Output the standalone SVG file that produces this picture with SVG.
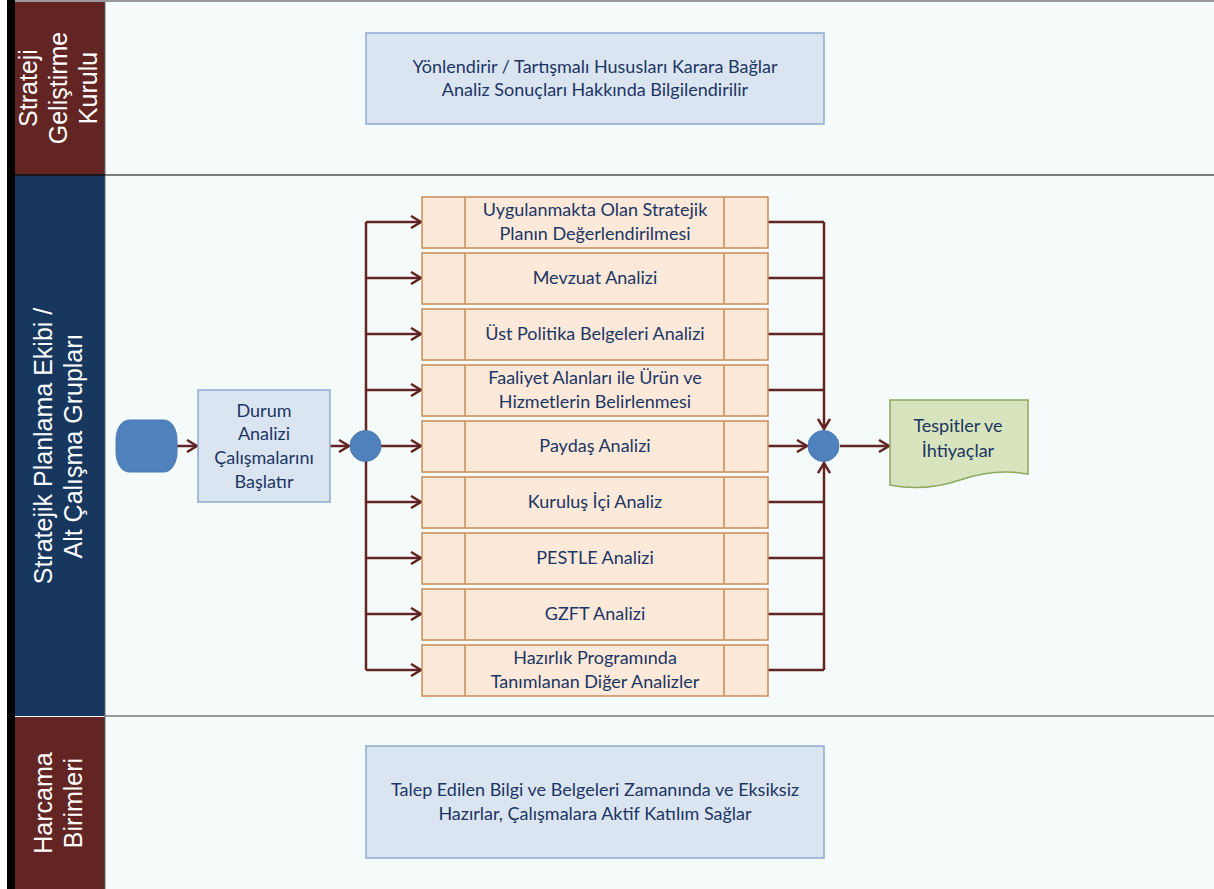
<svg xmlns="http://www.w3.org/2000/svg" width="1214" height="889" viewBox="0 0 1214 889">
<defs>
<style>
.hdr{font-family:"Liberation Sans",Arial,sans-serif;font-size:25px;fill:#ffffff;text-anchor:middle}
.t{font-family:Lato,"Open Sans",sans-serif;font-size:18px;fill:#1B3564;text-anchor:middle}
.blue{fill:#DBE5F1;stroke:#8EA9D0;stroke-width:1.5}
.ana{fill:#FDE9D9;stroke:#CC8A55;stroke-width:1.5}
.div{stroke:#CC8A55;stroke-width:1.5}
.con{fill:none;stroke:#632523;stroke-width:2.5}
.arr{marker-end:url(#ah)}
.dot{fill:#4F81BD;stroke:#4A7AB5;stroke-width:1}
</style>
<marker id="ah" viewBox="0 0 14 14" refX="12" refY="7" markerWidth="14" markerHeight="14" markerUnits="userSpaceOnUse" orient="auto">
<path d="M2,1 L12,7 L2,13" fill="none" stroke="#632523" stroke-width="2.5"/>
</marker>
</defs>
<rect x="0" y="0" width="1214" height="889" fill="#ffffff"/>
<g id="lanes">
<rect x="105" y="2" width="1109" height="887" fill="#F5FAFB"/>
<rect x="7" y="0" width="8" height="889" fill="#000000"/>
<line x1="15" y1="1" x2="1214" y2="1" stroke="#9A9A9A" stroke-width="2"/>
<rect x="15" y="2" width="90" height="172" fill="#632523"/>
<rect x="15" y="176" width="90" height="540" fill="#17375E"/>
<rect x="15" y="717" width="90" height="172" fill="#632523"/>
<line x1="105" y1="2" x2="105" y2="889" stroke="#6A6A6A" stroke-width="1"/>
<line x1="15" y1="175" x2="1214" y2="175" stroke="#555555" stroke-width="1.5"/>
<line x1="105" y1="716" x2="1214" y2="716" stroke="#777777" stroke-width="1.5"/>
<line x1="15" y1="175" x2="105" y2="175" stroke="#1a1a1a" stroke-width="2"/>
</g>
<g id="lane1-label">
<text class="hdr" transform="translate(37,88) rotate(-90)">Strateji</text>
<text class="hdr" transform="translate(67,88) rotate(-90)">Geliştirme</text>
<text class="hdr" transform="translate(97,88) rotate(-90)">Kurulu</text>
</g>
<g id="lane2-label">
<text class="hdr" transform="translate(52,446) rotate(-90)">Stratejik Planlama Ekibi /</text>
<text class="hdr" transform="translate(82,446) rotate(-90)">Alt Çalışma Grupları</text>
</g>
<g id="lane3-label">
<text class="hdr" transform="translate(52,803) rotate(-90)">Harcama</text>
<text class="hdr" transform="translate(82,803) rotate(-90)">Birimleri</text>
</g>
<g id="kurul-box">
<rect class="blue" x="366" y="33" width="458" height="91"/>
<text class="t" x="595" y="73">Yönlendirir / Tartışmalı Hususları Karara Bağlar</text>
<text class="t" x="595" y="96">Analiz Sonuçları Hakkında Bilgilendirilir</text>
</g>
<g id="harcama-box">
<rect class="blue" x="366" y="746" width="458" height="112"/>
<text class="t" x="595" y="796">Talep Edilen Bilgi ve Belgeleri Zamanında ve Eksiksiz</text>
<text class="t" x="595" y="820">Hazırlar, Çalışmalara Aktif Katılım Sağlar</text>
</g>
<g id="connectors">
<path class="con arr" d="M177,446 H197"/>
<path class="con arr" d="M330,446 H349"/>
<path class="con" d="M366,222 V670"/>
<path class="con arr" d="M366,222 H421"/>
<path class="con arr" d="M366,278 H421"/>
<path class="con arr" d="M366,334 H421"/>
<path class="con arr" d="M366,390 H421"/>
<path class="con arr" d="M381,446 H421"/>
<path class="con arr" d="M366,502 H421"/>
<path class="con arr" d="M366,558 H421"/>
<path class="con arr" d="M366,614 H421"/>
<path class="con arr" d="M366,670 H421"/>
<path class="con" d="M768,222 H824"/>
<path class="con" d="M768,278 H824"/>
<path class="con" d="M768,334 H824"/>
<path class="con" d="M768,390 H824"/>
<path class="con" d="M768,502 H824"/>
<path class="con" d="M768,558 H824"/>
<path class="con" d="M768,614 H824"/>
<path class="con" d="M768,670 H824"/>
<path class="con arr" d="M824,222 V429"/>
<path class="con arr" d="M824,670 V463"/>
<path class="con arr" d="M768,446 H807"/>
<path class="con arr" d="M840,446 H889"/>
</g>
<g id="start">
<rect x="116" y="420" width="61" height="52" rx="13" ry="20" fill="#4F81BD" stroke="#4A7AB5" stroke-width="1"/>
</g>
<g id="durum">
<rect class="blue" x="198" y="390" width="132" height="112"/>
<text class="t" x="264" y="417">Durum</text>
<text class="t" x="264" y="440">Analizi</text>
<text class="t" x="264" y="464">Çalışmalarını</text>
<text class="t" x="264" y="488">Başlatır</text>
</g>
<g id="fork">
<circle class="dot" cx="365.5" cy="446" r="15.5"/>
</g>
<g id="a1">
<rect class="ana" x="422" y="197" width="346" height="51"/>
<line class="div" x1="465" y1="197" x2="465" y2="248"/><line class="div" x1="724" y1="197" x2="724" y2="248"/>
<text class="t" x="595" y="216">Uygulanmakta Olan Stratejik</text>
<text class="t" x="595" y="240">Planın Değerlendirilmesi</text>
</g>
<g id="a2">
<rect class="ana" x="422" y="253" width="346" height="51"/>
<line class="div" x1="465" y1="253" x2="465" y2="304"/><line class="div" x1="724" y1="253" x2="724" y2="304"/>
<text class="t" x="595" y="284">Mevzuat Analizi</text>
</g>
<g id="a3">
<rect class="ana" x="422" y="309" width="346" height="51"/>
<line class="div" x1="465" y1="309" x2="465" y2="360"/><line class="div" x1="724" y1="309" x2="724" y2="360"/>
<text class="t" x="595" y="340">Üst Politika Belgeleri Analizi</text>
</g>
<g id="a4">
<rect class="ana" x="422" y="365" width="346" height="51"/>
<line class="div" x1="465" y1="365" x2="465" y2="416"/><line class="div" x1="724" y1="365" x2="724" y2="416"/>
<text class="t" x="595" y="384">Faaliyet Alanları ile Ürün ve</text>
<text class="t" x="595" y="408">Hizmetlerin Belirlenmesi</text>
</g>
<g id="a5">
<rect class="ana" x="422" y="421" width="346" height="51"/>
<line class="div" x1="465" y1="421" x2="465" y2="472"/><line class="div" x1="724" y1="421" x2="724" y2="472"/>
<text class="t" x="595" y="452">Paydaş Analizi</text>
</g>
<g id="a6">
<rect class="ana" x="422" y="477" width="346" height="51"/>
<line class="div" x1="465" y1="477" x2="465" y2="528"/><line class="div" x1="724" y1="477" x2="724" y2="528"/>
<text class="t" x="595" y="508">Kuruluş İçi Analiz</text>
</g>
<g id="a7">
<rect class="ana" x="422" y="533" width="346" height="51"/>
<line class="div" x1="465" y1="533" x2="465" y2="584"/><line class="div" x1="724" y1="533" x2="724" y2="584"/>
<text class="t" x="595" y="564">PESTLE Analizi</text>
</g>
<g id="a8">
<rect class="ana" x="422" y="589" width="346" height="51"/>
<line class="div" x1="465" y1="589" x2="465" y2="640"/><line class="div" x1="724" y1="589" x2="724" y2="640"/>
<text class="t" x="595" y="620">GZFT Analizi</text>
</g>
<g id="a9">
<rect class="ana" x="422" y="645" width="346" height="51"/>
<line class="div" x1="465" y1="645" x2="465" y2="696"/><line class="div" x1="724" y1="645" x2="724" y2="696"/>
<text class="t" x="595" y="664">Hazırlık Programında</text>
<text class="t" x="595" y="688">Tanımlanan Diğer Analizler</text>
</g>
<g id="join">
<circle class="dot" cx="823.5" cy="446" r="15.5"/>
</g>
<g id="tespitler">
<path d="M890,400 H1028 V474 Q995,468 960,480 Q925,492 890,485 Z" fill="#D7E4BD" stroke="#8FA860" stroke-width="1.5"/>
<text class="t" x="958" y="432">Tespitler ve</text>
<text class="t" x="958" y="457">İhtiyaçlar</text>
</g>
</svg>
